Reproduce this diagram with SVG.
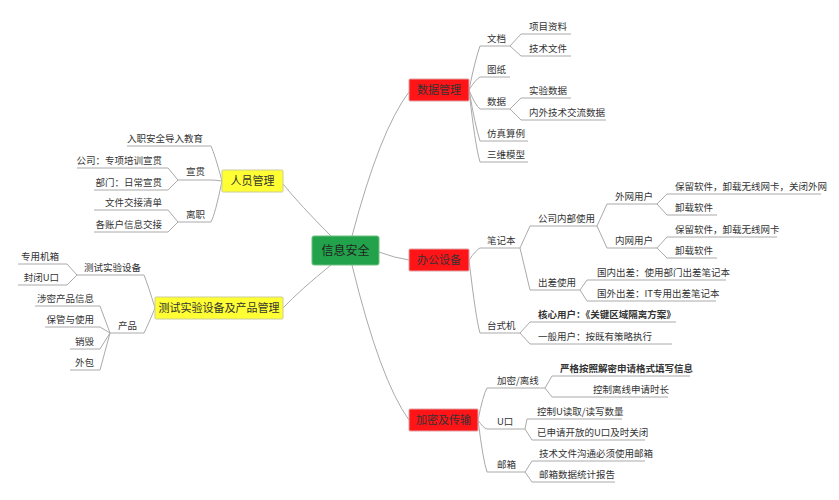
<svg xmlns="http://www.w3.org/2000/svg" width="839" height="500" viewBox="0 0 839 500">
<style>
text{font-family:"Noto Sans CJK SC","Liberation Sans",sans-serif;font-size:9.5px;fill:#333}
.b{font-weight:bold}
.r{text-anchor:end}
.m{font-size:11px;text-anchor:middle;fill:#333}
.c{font-size:12px;text-anchor:middle;fill:#222}
path,line{stroke:#aaa;stroke-width:1;fill:none}
.red{fill:#ff1418;stroke:#e0a0a0;stroke-width:1}
.yel{fill:#ffff33;stroke:#cccc99;stroke-width:1}
.grn{fill:#22a24a;stroke:#6cbf80;stroke-width:1}
</style>
<rect width="839" height="500" fill="#fff"/>
<g id="connectors">
<path d="M352,236 Q380,130 409,92"/>
<path d="M379,252 Q395,258 409,260"/>
<path d="M352,265 Q380,380 409,420"/>
<path d="M331,236 Q300,205 283,184"/>
<path d="M331,265 Q300,290 283,308"/>
<!-- 数据管理 -->
<path d="M469,90 Q475,60 480,46 L510,46"/>
<path d="M469,90 Q475,80 480,77 L510,77"/>
<path d="M469,90 Q475,105 480,109 L510,109"/>
<path d="M469,90 Q475,125 480,141 L528,141"/>
<path d="M469,90 Q475,145 480,162 L528,162"/>
<path d="M510,46 L521,34 L571,34"/>
<path d="M510,46 L521,56 L571,56"/>
<path d="M510,109 L521,98 L571,98"/>
<path d="M510,109 L521,120 L606,120"/>
<!-- 办公设备 -->
<path d="M469,260 Q476,250 480,248 L520,248"/>
<path d="M469,260 Q476,320 480,333 L520,333"/>
<path d="M520,248 L530,226 L597,226"/>
<path d="M520,248 L530,290 L580,290"/>
<path d="M597,226 L607,204 L657,204"/>
<path d="M597,226 L607,248 L657,248"/>
<path d="M657,204 L667,194 L821,194"/>
<path d="M657,204 L667,215 L717,215"/>
<path d="M657,248 L667,237 L777,237"/>
<path d="M657,248 L667,258 L717,258"/>
<path d="M580,290 L587,280 L726,280"/>
<path d="M580,290 L587,301 L716,301"/>
<path d="M520,333 L530,322 L676,322"/>
<path d="M520,333 L530,344 L672,344"/>
<!-- 加密及传输 -->
<path d="M478,420 Q483,395 487,388 L545,388"/>
<path d="M478,420 Q483,428 487,429 L525,429"/>
<path d="M478,420 Q483,460 487,472 L525,472"/>
<path d="M545,388 L552,376 L690,376"/>
<path d="M545,388 L552,397 L668,397"/>
<path d="M525,429 L527,419 L622,419"/>
<path d="M525,429 L532,440 L645,440"/>
<path d="M525,472 L532,461 L645,461"/>
<path d="M525,472 L532,482 L615,482"/>
<!-- 人员管理 -->
<path d="M222,181 Q215,155 211,146 L127,146"/>
<path d="M222,181 Q215,180 211,180 L178,180"/>
<path d="M222,181 Q215,215 211,222 L178,222"/>
<path d="M178,180 L168,168 L77,168"/>
<path d="M178,180 L168,190 L94,190"/>
<path d="M178,222 L168,210 L94,210"/>
<path d="M178,222 L168,232 L94,232"/>
<!-- 测试实验设备及产品管理 -->
<path d="M155,308 Q148,285 144,275 L77,275"/>
<path d="M155,308 Q148,325 144,333 L110,333"/>
<path d="M77,275 L67,264 L18,264"/>
<path d="M77,275 L67,285 L18,285"/>
<path d="M110,333 L100,306 L35,306"/>
<path d="M110,333 L100,327 L45,327"/>
<path d="M110,333 L100,349 L70,349"/>
<path d="M110,333 L100,370 L70,370"/>
</g>
<g id="n-center"><rect class="grn" x="312" y="236" width="67" height="29" rx="2"/><text class="c" x="345.5" y="255">信息安全</text></g>
<g id="n-data"><rect class="red" x="409" y="79" width="60" height="22" rx="1"/><text class="m" x="439" y="94">数据管理</text></g>
<g id="n-office"><rect class="red" x="409" y="249" width="60" height="22" rx="1"/><text class="m" x="439" y="264">办公设备</text></g>
<g id="n-enc"><rect class="red" x="409" y="409" width="69" height="22" rx="1"/><text class="m" x="443.5" y="424">加密及传输</text></g>
<g id="n-people"><rect class="yel" x="222" y="170" width="61" height="22" rx="1"/><text class="m" x="252.5" y="185">人员管理</text></g>
<g id="n-test"><rect class="yel" x="155" y="297" width="128" height="22" rx="1"/><text class="m" x="219" y="312">测试实验设备及产品管理</text></g>
<g id="labels">
<g id="n-doc"><text x="487" y="42">文档</text></g>
<g id="n-doc1"><text x="529" y="30">项目资料</text></g>
<g id="n-doc2"><text x="529" y="52">技术文件</text></g>
<g id="n-draw"><text x="487" y="73">图纸</text></g>
<g id="n-dat"><text x="487" y="105">数据</text></g>
<g id="n-dat1"><text x="529" y="94">实验数据</text></g>
<g id="n-dat2"><text x="529" y="116">内外技术交流数据</text></g>
<g id="n-sim"><text x="487" y="137">仿真算例</text></g>
<g id="n-3d"><text x="487" y="158">三维模型</text></g>
<g id="n-nb"><text x="487" y="244">笔记本</text></g>
<g id="n-inner"><text x="538" y="222">公司内部使用</text></g>
<g id="n-ext"><text x="615" y="200">外网用户</text></g>
<g id="n-ext1"><text x="675" y="190">保留软件，卸载无线网卡，关闭外网</text></g>
<g id="n-ext2"><text x="675" y="211">卸载软件</text></g>
<g id="n-int"><text x="615" y="244">内网用户</text></g>
<g id="n-int1"><text x="675" y="233">保留软件，卸载无线网卡</text></g>
<g id="n-int2"><text x="675" y="254">卸载软件</text></g>
<g id="n-trip"><text x="538" y="286">出差使用</text></g>
<g id="n-trip1"><text x="597" y="276">国内出差：使用部门出差笔记本</text></g>
<g id="n-trip2"><text x="597" y="297">国外出差：IT专用出差笔记本</text></g>
<g id="n-desk"><text x="487" y="329">台式机</text></g>
<g id="n-desk1"><text class="b" x="538" y="318">核心用户：《关键区域隔离方案》</text></g>
<g id="n-desk2"><text x="538" y="340">一般用户：按既有策略执行</text></g>
<g id="n-off"><text x="497" y="384">加密/离线</text></g>
<g id="n-off1"><text class="b" x="560" y="372">严格按照解密申请格式填写信息</text></g>
<g id="n-off2"><text x="593" y="393">控制离线申请时长</text></g>
<g id="n-u"><text x="497" y="425">U口</text></g>
<g id="n-u1"><text x="537" y="415">控制U读取/读写数量</text></g>
<g id="n-u2"><text x="537" y="436">已申请开放的U口及时关闭</text></g>
<g id="n-mail"><text x="497" y="468">邮箱</text></g>
<g id="n-mail1"><text x="539" y="457">技术文件沟通必须使用邮箱</text></g>
<g id="n-mail2"><text x="539" y="478">邮箱数据统计报告</text></g>
<g id="n-p1"><text class="r" x="203" y="142">入职安全导入教育</text></g>
<g id="n-p2"><text x="186" y="175">宣贯</text></g>
<g id="n-p21"><text class="r" x="162" y="164">公司：专项培训宣贯</text></g>
<g id="n-p22"><text class="r" x="162" y="186">部门：日常宣贯</text></g>
<g id="n-p3"><text x="186" y="218">离职</text></g>
<g id="n-p31"><text class="r" x="162" y="206">文件交接清单</text></g>
<g id="n-p32"><text class="r" x="162" y="228">各账户信息交接</text></g>
<g id="n-t1"><text x="84" y="271">测试实验设备</text></g>
<g id="n-t11"><text class="r" x="59" y="260">专用机箱</text></g>
<g id="n-t12"><text class="r" x="59" y="281">封闭U口</text></g>
<g id="n-t2"><text x="118" y="329">产品</text></g>
<g id="n-t21"><text class="r" x="94" y="302">涉密产品信息</text></g>
<g id="n-t22"><text class="r" x="94" y="323">保管与使用</text></g>
<g id="n-t23"><text class="r" x="94" y="345">销毁</text></g>
<g id="n-t24"><text class="r" x="94" y="366">外包</text></g>
</g>
</svg>
